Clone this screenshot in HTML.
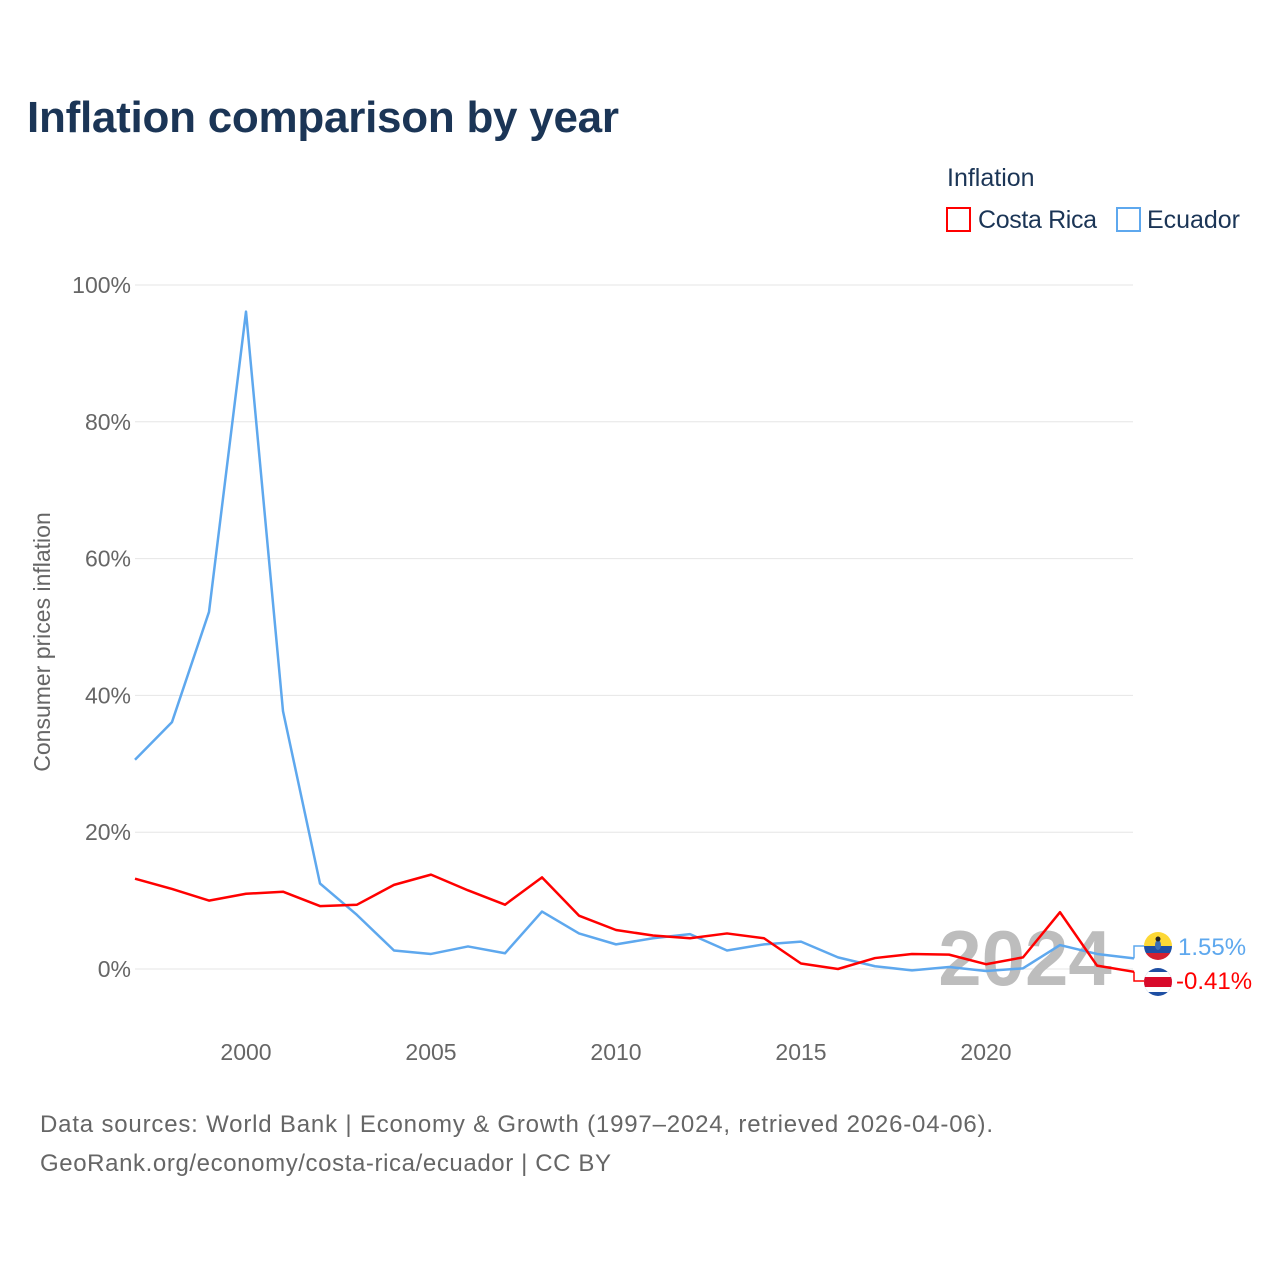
<!DOCTYPE html>
<html><head><meta charset="utf-8">
<style>
body{margin:0;background:#fff;font-family:"Liberation Sans",sans-serif;}
svg{display:block}
</style></head>
<body>
<svg id="chart" width="1280" height="1280" xmlns="http://www.w3.org/2000/svg">
<text x="27" y="132" font-size="44" font-weight="bold" fill="#1b3556" textLength="592">Inflation comparison by year</text>
<text x="947" y="186" font-size="25" fill="#1b3556">Inflation</text>
<g>
<rect x="947" y="208" width="23" height="23" fill="none" stroke="#ff0000" stroke-width="2"/>
<text x="978" y="228" font-size="25" fill="#1b3556" textLength="119">Costa Rica</text></g>
<g>
<rect x="1117" y="208" width="23" height="23" fill="none" stroke="#5ea8ee" stroke-width="2"/>
<text x="1147" y="228" font-size="25" fill="#1b3556" textLength="93">Ecuador</text></g>
<text transform="translate(50,642) rotate(-90)" text-anchor="middle" font-size="23" fill="#666">Consumer prices inflation</text>
<g id="grid"></g>
<text x="1025" y="985" text-anchor="middle" font-size="78" font-weight="bold" fill="#bdbdbd">2024</text>
<g id="lines"></g>
<g id="labels"></g>
<text x="40" y="1132" font-size="24" fill="#666" textLength="953">Data sources: World Bank | Economy &amp; Growth (1997–2024, retrieved 2026-04-06).</text>
<text x="40" y="1171" font-size="24" fill="#666" textLength="571">GeoRank.org/economy/costa-rica/ecuador | CC BY</text>
</svg>
<script>
const years=[1997,1998,1999,2000,2001,2002,2003,2004,2005,2006,2007,2008,2009,2010,2011,2012,2013,2014,2015,2016,2017,2018,2019,2020,2021,2022,2023,2024];
const costaRica=[13.2,11.7,10.0,11.0,11.3,9.2,9.4,12.3,13.8,11.5,9.4,13.4,7.8,5.7,4.9,4.5,5.2,4.5,0.8,0.0,1.6,2.2,2.1,0.7,1.7,8.3,0.5,-0.41];
const ecuador=[30.6,36.1,52.2,96.1,37.7,12.5,7.9,2.7,2.2,3.3,2.3,8.4,5.2,3.6,4.5,5.1,2.7,3.6,4.0,1.7,0.4,-0.2,0.3,-0.3,0.1,3.5,2.2,1.55];
const yTicks=[0,20,40,60,80,100];
const xTicks=[2000,2005,2010,2015,2020];
const NS="http://www.w3.org/2000/svg";
const X=y=>135+(y-1997)*(1134-135)/27;
const Y=v=>969-v*6.84;
function mk(tag,attrs,parent){const e=document.createElementNS(NS,tag);for(const k in attrs)e.setAttribute(k,attrs[k]);parent.appendChild(e);return e;}
const grid=document.getElementById('grid');
yTicks.forEach(t=>{
 const l=mk('line',{x1:135,x2:1133,y1:Y(t),y2:Y(t),stroke:'#e6e6e6','stroke-width':1},grid);
 
 
 const tx=mk('text',{x:131,y:Y(t)+8,'text-anchor':'end','font-size':23,fill:'#666'},grid);
 tx.textContent=t+'%';
 
 
});
xTicks.forEach(t=>{
 const tx=mk('text',{x:X(t),y:1060,'text-anchor':'middle','font-size':23,fill:'#666'},grid);
 tx.textContent=t;
 
 
});
const lines=document.getElementById('lines');
function series(vals,color,name){
 const p=mk('polyline',{points:vals.map((v,i)=>X(years[i])+','+Y(v)).join(' '),fill:'none',stroke:color,'stroke-width':2.5,'stroke-linejoin':'round'},lines);
 
 
}
series(ecuador,'#5ea8ee','ecuador-line');
series(costaRica,'#ff0000','costa-rica-line');
const lab=document.getElementById('labels');
const eY=Y(ecuador[ecuador.length-1]), cY=Y(costaRica[costaRica.length-1]);
const e1=mk('polyline',{points:`${X(2024)},${eY} 1134,${eY} 1134,946 1144,946`,fill:'none',stroke:'#5ea8ee','stroke-width':1.5},lab);


const c1=mk('polyline',{points:`${X(2024)},${cY} 1134,${cY} 1134,981 1144,981`,fill:'none',stroke:'#ff0000','stroke-width':1.5},lab);


const ef=mk('g',{},lab);


mk('clipPath',{id:'ce'},ef);
mk('circle',{cx:1158,cy:946,r:14},ef.firstChild);
const eg=mk('g',{'clip-path':'url(#ce)'},ef);
mk('rect',{x:1144,y:932,width:28,height:14,fill:'#fdd835'},eg);
mk('rect',{x:1144,y:946,width:28,height:7,fill:'#1e4fa3'},eg);
mk('rect',{x:1144,y:953,width:28,height:7,fill:'#d32030'},eg);
mk('ellipse',{cx:1158,cy:945,rx:3,ry:5,fill:'#3b6fb5'},eg);
mk('circle',{cx:1158,cy:939,r:2.5,fill:'#222'},eg);
const cf=mk('g',{},lab);


mk('clipPath',{id:'cc'},cf);
mk('circle',{cx:1158,cy:982,r:14},cf.firstChild);
const cg=mk('g',{'clip-path':'url(#cc)'},cf);
mk('rect',{x:1144,y:968,width:28,height:28,fill:'#1e4fa3'},cg);
mk('rect',{x:1144,y:972,width:28,height:20,fill:'#fff'},cg);
mk('rect',{x:1144,y:977,width:28,height:10,fill:'#d80a2a'},cg);
const et=mk('text',{x:1178,y:955,'font-size':24,fill:'#5ea8ee'},lab);
et.textContent=ecuador[ecuador.length-1].toFixed(2)+'%';


const ct=mk('text',{x:1176,y:989,'font-size':24,fill:'#ff0000'},lab);
ct.textContent=costaRica[costaRica.length-1].toFixed(2)+'%';


</script>
</body></html>
